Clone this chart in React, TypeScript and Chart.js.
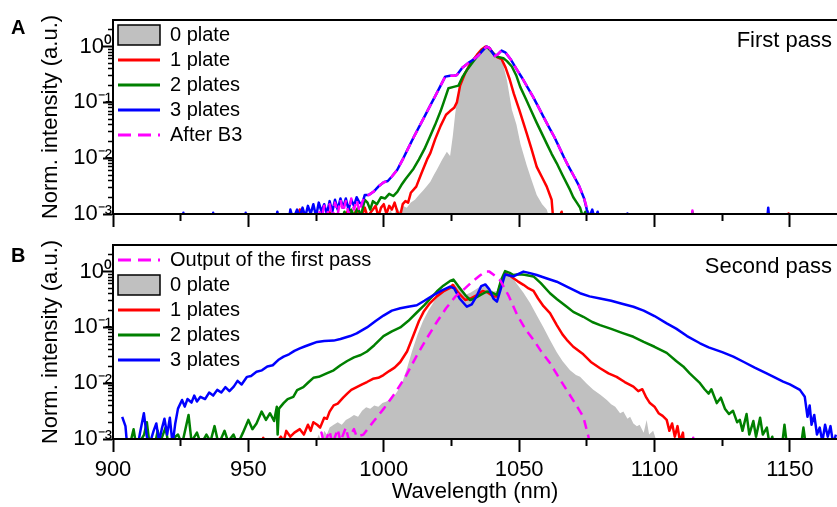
import React, { useEffect, useRef } from 'react';
import { Chart, registerables } from 'chart.js';

Chart.register(...registerables);

const FONT = '"Liberation Sans", Arial, Helvetica, sans-serif';
Chart.defaults.font.family = FONT;
Chart.defaults.color = '#000';

// ---------- axes ----------
const X_MIN = 900;
const X_MAX = 1167.4;
const xMajorTicks = [900, 950, 1000, 1050, 1100, 1150];
const xMinorTicks = [925, 975, 1025, 1075, 1125];
const Y_MIN = 1e-3;
const Y_MAX = 3;
const yMajorTicks = [1e-3, 1e-2, 1e-1, 1];
const yMinorTicks = [
  2e-3, 3e-3, 4e-3, 5e-3, 6e-3, 7e-3, 8e-3, 9e-3,
  2e-2, 3e-2, 4e-2, 5e-2, 6e-2, 7e-2, 8e-2, 9e-2,
  2e-1, 3e-1, 4e-1, 5e-1, 6e-1, 7e-1, 8e-1, 9e-1, 2,
];
const yTickLabels: Record<string, string> = { '-3': '10⁻³', '-2': '10⁻²', '-1': '10⁻¹', '0': '10⁰' };

// ---------- panel A (first pass): [wavelength nm, normalized intensity] ----------
const greyA: [number, number][] = [
  [1001, 0.0008], [1002.5, 0.0012], [1003.5, 0.0009], [1005, 0.0013], [1006, 0.0011], [1007, 0.0014],
  [1008.5, 0.0013], [1010, 0.0016], [1011.5, 0.0018], [1013, 0.0022], [1014.7, 0.0027], [1016, 0.0032],
  [1017.2, 0.0038], [1018.5, 0.005], [1019.6, 0.0062], [1021.5, 0.0093], [1023.3, 0.013], [1024.5, 0.011],
  [1025.5, 0.025], [1026.4, 0.063], [1027.6, 0.166], [1029.4, 0.33], [1031, 0.44], [1033.1, 0.575],
  [1035, 0.75], [1037, 0.92], [1038, 1.0], [1039.5, 0.9], [1041.1, 0.76], [1043.6, 0.6], [1045.5, 0.25],
  [1047.3, 0.075], [1049, 0.04], [1050.5, 0.018], [1052.8, 0.0075], [1054.5, 0.0042], [1056.5, 0.0022],
  [1058.5, 0.0015], [1060.2, 0.0012], [1061, 0.0009], [1062, 0.0006],
];
const redA: [number, number][] = [
  [968, 0.0007], [969, 0.0012], [970, 0.0011], [971, 0.0007], [978, 0.0007], [980, 0.0011], [981, 0.0007],
  [985, 0.0008], [987, 0.0012], [988, 0.0008], [990, 0.0012], [991, 0.0007], [993, 0.0013], [994, 0.0009],
  [996, 0.0012], [997, 0.0014], [998, 0.0009], [999, 0.0013], [1000, 0.0015], [1001, 0.001], [1002, 0.0014],
  [1003, 0.0012], [1004, 0.0016], [1005, 0.0011], [1006, 0.0009], [1007, 0.0015], [1008, 0.0017],
  [1009, 0.0016], [1010, 0.0024], [1012, 0.0031], [1014, 0.0055], [1016, 0.0095], [1017.2, 0.0123],
  [1019, 0.022], [1021, 0.038], [1023, 0.06], [1024.5, 0.07], [1026, 0.08], [1027, 0.1], [1028.2, 0.2],
  [1030, 0.33], [1032, 0.5], [1034.4, 0.71], [1036, 0.88], [1037.5, 1.0], [1039, 0.95], [1040.5, 0.75],
  [1042, 0.64], [1043.5, 0.6], [1045, 0.42], [1046.5, 0.26], [1048, 0.145], [1050, 0.075], [1052.8, 0.028],
  [1054.5, 0.015], [1056.5, 0.007], [1058.5, 0.0045], [1060.2, 0.0031], [1062, 0.0018], [1062.5, 0.0009],
  [1064, 0.0007], [1065.7, 0.0011], [1066.5, 0.0007], [1149, 0.0007], [1149.5, 0.00102], [1150, 0.0007],
];
const greenA: [number, number][] = [
  [984, 0.0007], [985.5, 0.0011], [986.5, 0.0008], [988, 0.0012], [989, 0.0009], [990.5, 0.0013],
  [991.5, 0.0009], [993, 0.0018], [994, 0.0016], [995, 0.0012], [996, 0.0017], [997.5, 0.0015], [999, 0.002],
  [1000.5, 0.0019], [1002, 0.0023], [1003.5, 0.0021], [1005, 0.0025], [1006.5, 0.0033], [1008, 0.0042],
  [1009.5, 0.0052], [1011, 0.0065], [1013, 0.0095], [1015, 0.0145], [1017, 0.024], [1019, 0.04], [1021, 0.07],
  [1022, 0.096], [1023.9, 0.18], [1025.8, 0.19], [1027.6, 0.2], [1029, 0.28], [1030.7, 0.38], [1032.5, 0.5],
  [1034.4, 0.66], [1036, 0.82], [1038, 1.0], [1040, 0.8], [1041.8, 0.66], [1044.2, 0.62], [1045.5, 0.55],
  [1047.3, 0.44], [1049, 0.3], [1050.4, 0.19], [1052.5, 0.115], [1054.5, 0.07], [1056.5, 0.043],
  [1058.5, 0.027], [1060.5, 0.017], [1062, 0.012], [1063.9, 0.0081], [1066, 0.005], [1068.8, 0.0027],
  [1070, 0.002], [1071.3, 0.0016], [1072.5, 0.0013], [1073.5, 0.0009], [1074.5, 0.0011], [1075, 0.0007],
  [1113.5, 0.0007], [1114, 0.0011], [1114.5, 0.0007],
];
const blueA: [number, number][] = [
  [915, 0.0007], [925.5, 0.0007], [926, 0.00105], [926.5, 0.0007], [936.5, 0.0007], [937, 0.00105],
  [937.5, 0.0007], [948.5, 0.0007], [949, 0.00105], [949.5, 0.0007], [960, 0.0007], [960.7, 0.0011],
  [961.5, 0.0007], [965, 0.0008], [965.5, 0.0012], [966.5, 0.0008], [968, 0.0012], [969, 0.0009],
  [970, 0.0013], [971, 0.0009], [972, 0.0014], [973, 0.001], [974, 0.0015], [975, 0.0009], [976, 0.0016],
  [977, 0.0011], [978, 0.0015], [979, 0.001], [980, 0.0017], [981, 0.0011], [982, 0.0018], [983, 0.0012],
  [984, 0.0019], [985, 0.0013], [986, 0.0019], [987, 0.0012], [988, 0.0018], [989, 0.0014], [990, 0.002],
  [991, 0.0016], [992, 0.0015], [993, 0.0022], [994.5, 0.0022], [996.2, 0.0025], [998, 0.0031],
  [1000, 0.0037], [1001.5, 0.0039], [1003, 0.0047], [1005, 0.0062], [1007, 0.0095], [1009, 0.015],
  [1011, 0.0235], [1013, 0.036], [1015, 0.055], [1017, 0.085], [1019, 0.13], [1021, 0.2], [1022.7, 0.29],
  [1024.5, 0.3], [1026, 0.3], [1027, 0.31], [1029, 0.42], [1031, 0.5], [1033, 0.58], [1035, 0.7],
  [1037, 0.9], [1038, 1.0], [1039, 0.95], [1040, 0.8], [1041, 0.68], [1042, 0.72], [1043.5, 0.85],
  [1045, 0.78], [1047, 0.58], [1049, 0.4], [1051, 0.28], [1053, 0.19], [1055, 0.13], [1057, 0.085],
  [1059, 0.055], [1061, 0.036], [1063, 0.024], [1065, 0.015], [1066.5, 0.0105], [1068, 0.0075],
  [1070, 0.005], [1072, 0.0033], [1074, 0.0019], [1075, 0.0012], [1076, 0.0009], [1077, 0.0012],
  [1078, 0.0008], [1079, 0.0011], [1080, 0.0007], [1089.5, 0.0007], [1090, 0.00102], [1090.5, 0.0007],
  [1141.5, 0.0007], [1142, 0.0013], [1142.5, 0.0007], [1167, 0.0007],
];
const magentaA: [number, number][] = [
  [975, 0.0007], [976, 0.0012], [977, 0.0008], [978, 0.0014], [979, 0.0009], [980, 0.0015], [981, 0.0008],
  [982, 0.0016], [983, 0.001], [984, 0.0018], [985, 0.0011], [986, 0.0017], [987, 0.001], [988, 0.0019],
  [989, 0.0012], [990, 0.0018], [991, 0.0011], [992, 0.0016], [993, 0.0021], [994.5, 0.0022],
  [996.2, 0.0025], [998, 0.0031], [1000, 0.0037], [1001.5, 0.0039], [1003, 0.0047], [1005, 0.0062],
  [1007, 0.0094], [1009, 0.015], [1011, 0.0235], [1013, 0.036], [1015, 0.055], [1017, 0.085], [1019, 0.13],
  [1021, 0.2], [1022.7, 0.29], [1024.5, 0.3], [1026, 0.3], [1027, 0.31], [1029, 0.42], [1031, 0.5],
  [1033, 0.58], [1035, 0.7], [1037, 0.9], [1038, 1.0], [1039, 0.95], [1040, 0.8], [1041, 0.68],
  [1042, 0.72], [1043.5, 0.85], [1045, 0.78], [1047, 0.58], [1049, 0.4], [1051, 0.28], [1053, 0.19],
  [1055, 0.13], [1057, 0.085], [1059, 0.055], [1061, 0.036], [1063, 0.024], [1065, 0.015],
  [1066.5, 0.0105], [1068, 0.0075], [1070, 0.005], [1072, 0.0033], [1074, 0.0019], [1075, 0.0013],
  [1075.6, 0.0008], [1076.5, 0.0006], [1113.8, 0.0007], [1114, 0.00115], [1114.2, 0.0007],
];

// ---------- panel B (second pass) ----------
const magentaB: [number, number][] = [
  [975, 0.0007], [977, 0.0013], [978, 0.0008], [980, 0.0014], [981, 0.0008], [983, 0.0015], [984, 0.0009],
  [986, 0.0016], [987, 0.001], [989, 0.0015], [990, 0.0011], [992.5, 0.0012], [996, 0.002], [1000, 0.0035],
  [1004, 0.0065], [1008, 0.013], [1012, 0.03], [1016, 0.065], [1019.6, 0.125], [1023, 0.22],
  [1026.5, 0.36], [1030, 0.5], [1033, 0.68], [1035.5, 0.85], [1037.5, 1.0], [1039, 1.0], [1041, 0.85],
  [1043, 0.7], [1046, 0.38], [1049.2, 0.17], [1052.5, 0.09], [1055.3, 0.06], [1058, 0.038],
  [1061.4, 0.023], [1064.5, 0.013], [1067.6, 0.0075], [1070.5, 0.0045], [1073.7, 0.0025],
  [1075.6, 0.0011], [1076.5, 0.0006], [1114, 0.0007], [1114.3, 0.00105], [1114.6, 0.0007],
];
const greyB: [number, number][] = [
  [974, 0.0007], [976, 0.0012], [977, 0.0009], [978, 0.0014], [979, 0.0012], [980, 0.0016], [981.5, 0.0018],
  [983, 0.002], [984.5, 0.0018], [986, 0.0022], [987.5, 0.0024], [989, 0.0027], [990.5, 0.0025],
  [992, 0.0032], [993.5, 0.0037], [995, 0.0035], [996.5, 0.004], [998, 0.0038], [999.5, 0.0044],
  [1001, 0.0047], [1002.5, 0.0052], [1004, 0.006], [1005.5, 0.0078], [1007, 0.011], [1008.5, 0.018],
  [1010.5, 0.038], [1012.5, 0.075], [1014.5, 0.13], [1016.5, 0.2], [1019.6, 0.35], [1022, 0.46],
  [1024.5, 0.55], [1026, 0.6], [1028, 0.48], [1030, 0.38], [1032, 0.42], [1034.5, 0.5], [1036.5, 0.58],
  [1038.5, 0.52], [1040.5, 0.44], [1042, 0.45], [1043.5, 0.75], [1045, 0.9], [1047, 0.85], [1049.2, 0.6],
  [1051.6, 0.42], [1054.1, 0.27], [1056.5, 0.165], [1059, 0.1], [1061.5, 0.058], [1063.9, 0.036],
  [1066, 0.025], [1068.8, 0.017], [1071, 0.014], [1072.5, 0.013], [1075, 0.0098], [1077.4, 0.0076],
  [1080, 0.0062], [1082.4, 0.005], [1084, 0.0042], [1085.5, 0.0038], [1087.3, 0.0029], [1088.5, 0.0031],
  [1090, 0.0023], [1091, 0.0025], [1092.2, 0.0019], [1093.5, 0.0017], [1094.5, 0.0018], [1096, 0.0013],
  [1097.1, 0.0022], [1098, 0.0012], [1099.5, 0.0014], [1100.8, 0.0009], [1102, 0.0006],
];
const redB: [number, number][] = [
  [954, 0.0007], [955.5, 0.00105], [956.5, 0.0007], [960, 0.0008], [962, 0.0011], [963, 0.0009],
  [964, 0.0014], [965.5, 0.0011], [967, 0.0013], [969, 0.0015], [970.5, 0.0012], [972, 0.0018],
  [973, 0.0014], [974, 0.002], [975.4, 0.0018], [976.5, 0.0016], [978, 0.0024], [979, 0.0023],
  [980, 0.0031], [981.5, 0.004], [983, 0.0043], [985, 0.0055], [986.5, 0.0065], [988, 0.0076],
  [990, 0.0085], [992, 0.0095], [993.8, 0.0105], [996, 0.012], [998, 0.0125], [999.9, 0.014],
  [1002, 0.0165], [1004, 0.019], [1006.1, 0.024], [1008.6, 0.037], [1011, 0.073], [1013, 0.13],
  [1014.7, 0.19], [1017, 0.27], [1019.6, 0.36], [1022, 0.44], [1024.5, 0.51], [1025.5, 0.58],
  [1027.5, 0.42], [1030.1, 0.31], [1032, 0.33], [1034.4, 0.38], [1036.5, 0.45], [1038.5, 0.42],
  [1040.5, 0.36], [1041.8, 0.36], [1043.5, 0.7], [1044.8, 0.93], [1046.5, 0.85], [1047.9, 0.76],
  [1049.5, 0.67], [1051.6, 0.58], [1053.5, 0.5], [1055.3, 0.45], [1057, 0.33], [1059, 0.24],
  [1061.4, 0.18], [1063.9, 0.11], [1066, 0.075], [1067.6, 0.06], [1070, 0.045], [1073.7, 0.033],
  [1076.5, 0.024], [1079.9, 0.0185], [1083, 0.015], [1086, 0.013], [1089, 0.0105], [1092.2, 0.0087],
  [1094, 0.0072], [1095.5, 0.0078], [1097, 0.0055], [1098.3, 0.0044], [1100, 0.0038], [1101.5, 0.0029],
  [1103, 0.0026], [1104.5, 0.0022], [1105.5, 0.0014], [1106.5, 0.0019], [1107.5, 0.0011],
  [1108.5, 0.0017], [1109.4, 0.0009], [1110.5, 0.0013], [1111, 0.0007],
];
const greenB: [number, number][] = [
  [906, 0.0007], [907.6, 0.0015], [908.5, 0.0008], [910, 0.0009], [911.5, 0.0012], [912.5, 0.002],
  [913.5, 0.0008], [915, 0.0006], [916.5, 0.0014], [917.5, 0.0009], [919.4, 0.0016], [920.5, 0.0008],
  [922, 0.001], [924, 0.0012], [925.5, 0.0008], [927.9, 0.0027], [929, 0.0009], [931, 0.0013],
  [932.5, 0.0008], [934.5, 0.0012], [936, 0.0009], [937.5, 0.0017], [939, 0.0008], [941.2, 0.0014],
  [942.5, 0.0009], [944.5, 0.0012], [946, 0.0008], [948, 0.0013], [950, 0.0022], [951.5, 0.0015],
  [953, 0.0019], [954.9, 0.0031], [956.5, 0.0022], [958, 0.0029], [959.5, 0.0021], [960.5, 0.0038],
  [960.8, 0.0012], [961.3, 0.0035], [963, 0.0044], [964.5, 0.0052], [966.6, 0.0057], [968, 0.0075],
  [970.3, 0.0085], [972, 0.0102], [974, 0.0125], [976, 0.013], [978.9, 0.015], [981.5, 0.017],
  [984, 0.021], [986.5, 0.025], [989, 0.029], [991.5, 0.032], [993.8, 0.037], [996.5, 0.048],
  [999.9, 0.07], [1003, 0.085], [1006.1, 0.1], [1009, 0.13], [1012.2, 0.185], [1015, 0.25],
  [1017.5, 0.34], [1019.6, 0.44], [1022, 0.56], [1024.5, 0.68], [1025.7, 0.72], [1027.5, 0.55],
  [1030.1, 0.38], [1031.9, 0.31], [1033.5, 0.33], [1035.6, 0.38], [1038.1, 0.44], [1040, 0.42],
  [1041.8, 0.38], [1043.3, 0.7], [1044.8, 1.02], [1046.5, 0.95], [1047.9, 0.87], [1050, 0.9],
  [1052, 0.88], [1055.3, 0.82], [1058, 0.62], [1061.4, 0.41], [1064, 0.32], [1067.6, 0.235],
  [1070, 0.19], [1073.7, 0.155], [1077, 0.125], [1079.9, 0.11], [1084, 0.094], [1088, 0.08],
  [1092.2, 0.068], [1096, 0.055], [1100, 0.045], [1104.5, 0.035], [1108, 0.025], [1110.6, 0.02],
  [1113, 0.015], [1116.8, 0.01], [1118.5, 0.0078], [1120, 0.0065], [1121, 0.0078], [1123, 0.0044],
  [1124.5, 0.0055], [1126, 0.0035], [1127.5, 0.0028], [1129, 0.0032], [1130.5, 0.002], [1131.5, 0.0022],
  [1132.5, 0.0014], [1134, 0.0028], [1135, 0.0012], [1136.5, 0.0021], [1137.5, 0.0011], [1139, 0.0024],
  [1140, 0.0012], [1141.5, 0.0016], [1142.5, 0.0008], [1143.5, 0.0011], [1144.5, 0.0006], [1147, 0.0007],
  [1148, 0.0018], [1149, 0.0007], [1154, 0.0007], [1155, 0.0016], [1156, 0.0007],
];
const blueB: [number, number][] = [
  [903.4, 0.0025], [904.6, 0.0017], [905.2, 0.0008], [909, 0.0007], [910, 0.0013], [911.4, 0.0029],
  [912.5, 0.0011], [913.5, 0.0008], [915, 0.0014], [916, 0.0019], [917, 0.0009], [918, 0.0015],
  [919, 0.0023], [920, 0.0012], [921, 0.0024], [922, 0.0008], [923, 0.0019], [924, 0.0035], [925.5, 0.005],
  [926.5, 0.0038], [927.5, 0.0052], [929, 0.0045], [930, 0.006], [931, 0.0047], [932.3, 0.0057],
  [934, 0.0052], [935.5, 0.0068], [937, 0.006], [938.5, 0.0076], [940, 0.0068], [941.5, 0.0085],
  [943, 0.0072], [944.6, 0.0087], [946, 0.011], [947.5, 0.0095], [949.5, 0.013], [951, 0.0135],
  [953, 0.016], [955, 0.017], [957, 0.02], [959, 0.021], [961, 0.026], [963, 0.03], [965, 0.033],
  [967, 0.038], [969, 0.042], [971, 0.046], [973, 0.05], [975.4, 0.055], [978, 0.057], [981.5, 0.058],
  [984, 0.062], [987.6, 0.07], [990, 0.078], [993.8, 0.1], [997, 0.13], [999.9, 0.163], [1003, 0.2],
  [1006.1, 0.22], [1009, 0.235], [1012.2, 0.25], [1015, 0.3], [1018.4, 0.38], [1021.5, 0.46],
  [1024.5, 0.54], [1026, 0.5], [1028, 0.33], [1030.7, 0.235], [1032.5, 0.26], [1034.5, 0.38],
  [1036, 0.55], [1037.5, 0.59], [1039, 0.48], [1040.5, 0.33], [1041.8, 0.29], [1043, 0.45],
  [1044.8, 0.89], [1046.5, 0.85], [1047.9, 0.82], [1050, 0.92], [1051.6, 1.0], [1054, 0.94],
  [1056.5, 0.87], [1060, 0.76], [1063.9, 0.66], [1067.6, 0.54], [1072.5, 0.41], [1076, 0.36],
  [1079.9, 0.33], [1084, 0.3], [1088, 0.265], [1092.2, 0.235], [1096, 0.2], [1100, 0.16],
  [1104.5, 0.118], [1108, 0.095], [1112, 0.07], [1116.8, 0.052], [1120, 0.044], [1125, 0.036],
  [1129.1, 0.03], [1133, 0.024], [1137, 0.019], [1141.4, 0.015], [1144, 0.013], [1147.5, 0.0107],
  [1150, 0.0095], [1153.7, 0.0076], [1155.5, 0.0057], [1156.5, 0.0025], [1157.3, 0.004], [1158, 0.0018],
  [1159, 0.0027], [1160, 0.0012], [1161, 0.0016], [1162, 0.0009], [1163, 0.0018], [1164, 0.0011],
  [1165, 0.0017], [1166, 0.0008], [1167, 0.0012],
];

// ---------- styling ----------
const GREY = '#c0c0c0';
const RED = '#ff0000';
const GREEN = '#008000';
const BLUE = '#0000ff';
const MAGENTA = '#ff00ff';

type Kind = 'fill' | 'line' | 'dash';
interface Series { label: string; data: [number, number][]; color: string; kind: Kind; order: number; }

const seriesA: Series[] = [
  { label: '0 plate', data: greyA, color: GREY, kind: 'fill', order: 5 },
  { label: '1 plate', data: redA, color: RED, kind: 'line', order: 4 },
  { label: '2 plates', data: greenA, color: GREEN, kind: 'line', order: 3 },
  { label: '3 plates', data: blueA, color: BLUE, kind: 'line', order: 2 },
  { label: 'After B3', data: magentaA, color: MAGENTA, kind: 'dash', order: 1 },
];
const seriesB: Series[] = [
  { label: 'Output of the first pass', data: magentaB, color: MAGENTA, kind: 'dash', order: 1 },
  { label: '0 plate', data: greyB, color: GREY, kind: 'fill', order: 5 },
  { label: '1 plates', data: redB, color: RED, kind: 'line', order: 4 },
  { label: '2 plates', data: greenB, color: GREEN, kind: 'line', order: 3 },
  { label: '3 plates', data: blueB, color: BLUE, kind: 'line', order: 2 },
];

interface PanelOpts {
  series: Series[];
  letter: string;
  letterBaseline: number;
  passLabel: string;
  passOffset: number;
  showXLabels: boolean;
  xAxisHeight: number;
}

function buildConfig(p: PanelOpts): any {
  const datasets = p.series.map((s) => ({
    label: s.label,
    data: s.data.map(([x, y]) => ({ x, y })),
    borderColor: s.kind === 'fill' ? 'rgba(0,0,0,0)' : s.color,
    backgroundColor: s.color,
    borderWidth: s.kind === 'fill' ? 0 : 2.5,
    borderDash: s.kind === 'dash' ? [9, 6] : [],
    borderJoinStyle: 'round',
    fill: s.kind === 'fill' ? 'start' : false,
    pointRadius: 0,
    pointHoverRadius: 0,
    tension: 0,
    order: s.order,
  }));

  const textPlugin = {
    id: 'panelText',
    afterLayout(chart: any) {
      // keep the legend (placed in the chart area) aligned with the plot's top-left corner
      const lg = chart.legend;
      if (lg) {
        lg.top = chart.chartArea.top;
        lg.bottom = chart.chartArea.bottom;
        lg.left = chart.chartArea.left;
      }
    },
    afterDraw(chart: any) {
      const { ctx, chartArea } = chart;
      ctx.save();
      ctx.fillStyle = '#000';
      ctx.textBaseline = 'alphabetic';
      ctx.font = `22px ${FONT}`;
      ctx.textAlign = 'right';
      ctx.fillText(p.passLabel, chartArea.right - 5, chartArea.top + p.passOffset);
      ctx.font = `bold 20px ${FONT}`;
      ctx.textAlign = 'left';
      ctx.fillText(p.letter, 11, p.letterBaseline);
      ctx.restore();
    },
  };

  return {
    type: 'line',
    data: { datasets },
    plugins: [textPlugin],
    options: {
      animation: false,
      responsive: false,
      devicePixelRatio: 1,
      events: [],
      layout: { padding: { top: 20, left: 0, right: 0, bottom: 0 } },
      plugins: {
        tooltip: { enabled: false },
        legend: {
          display: true,
          position: 'chartArea',
          align: 'start',
          labels: {
            color: '#000',
            font: { size: 20, family: FONT },
            usePointStyle: true,
            pointStyleWidth: 42,
            padding: 5,
            generateLabels: (chart: any) =>
              chart.data.datasets.map((ds: any, i: number) => {
                const s = p.series[i];
                return {
                  text: ds.label,
                  datasetIndex: i,
                  fontColor: '#000',
                  hidden: false,
                  fillStyle: s.kind === 'fill' ? s.color : 'rgba(0,0,0,0)',
                  strokeStyle: s.kind === 'fill' ? '#000' : s.color,
                  lineWidth: s.kind === 'fill' ? 1.5 : 3,
                  lineDash: s.kind === 'dash' ? [13, 7] : [],
                  pointStyle: s.kind === 'fill' ? 'rect' : 'line',
                };
              }),
          },
        },
      },
      scales: {
        x: {
          type: 'linear',
          axis: 'x',
          position: 'bottom',
          min: X_MIN,
          max: X_MAX,
          afterBuildTicks: (s: any) => { s.ticks = xMajorTicks.map((v) => ({ value: v })); },
          afterFit: (s: any) => { s.height = p.xAxisHeight; },
          ticks: {
            display: p.showXLabels,
            color: '#000',
            font: { size: 22 },
            padding: 5,
            maxRotation: 0,
            autoSkip: false,
            callback: (v: any) => String(v),
          },
          grid: { display: true, drawOnChartArea: false, drawTicks: true, tickLength: 13, tickWidth: 2, tickColor: '#000' },
          border: { display: true, color: '#000', width: 2, z: 1 },
          title: {
            display: p.showXLabels,
            text: 'Wavelength (nm)',
            color: '#000',
            font: { size: 22 },
            padding: { top: 0, bottom: 2 },
          },
        },
        xMinor: {
          type: 'linear',
          axis: 'x',
          position: { y: Y_MIN },
          min: X_MIN,
          max: X_MAX,
          afterBuildTicks: (s: any) => { s.ticks = xMinorTicks.map((v) => ({ value: v })); },
          afterFit: (s: any) => { s.height = 0; },
          ticks: { display: false },
          grid: { display: true, drawOnChartArea: false, drawTicks: true, tickLength: 7, tickWidth: 2, tickColor: '#000' },
          border: { display: false },
        },
        xTop: {
          type: 'linear',
          axis: 'x',
          position: 'top',
          min: X_MIN,
          max: X_MAX,
          afterFit: (s: any) => { s.height = 0; },
          ticks: { display: false },
          grid: { display: false, drawTicks: false },
          border: { display: true, color: '#000', width: 2, z: 1 },
        },
        y: {
          type: 'logarithmic',
          axis: 'y',
          position: 'left',
          min: Y_MIN,
          max: Y_MAX,
          afterBuildTicks: (s: any) => { s.ticks = yMajorTicks.map((v) => ({ value: v })); },
          afterFit: (s: any) => { s.width = 113; },
          ticks: {
            color: '#000',
            font: { size: 22 },
            padding: -9,
            autoSkip: false,
            callback: (v: any) => yTickLabels[String(Math.round(Math.log10(Number(v))))] ?? '',
          },
          grid: { display: true, drawOnChartArea: false, drawTicks: true, tickLength: 10, tickWidth: 2, tickColor: '#000' },
          border: { display: true, color: '#000', width: 2, z: 1 },
          title: {
            display: true,
            text: 'Norm. intensity (a.u.)',
            color: '#000',
            font: { size: 22 },
            padding: { top: 38, bottom: 0 },
          },
        },
        yMinor: {
          type: 'logarithmic',
          axis: 'y',
          position: { x: X_MIN },
          min: Y_MIN,
          max: Y_MAX,
          afterBuildTicks: (s: any) => { s.ticks = yMinorTicks.map((v) => ({ value: v })); },
          afterFit: (s: any) => { s.width = 0; },
          ticks: { display: false },
          grid: { display: true, drawOnChartArea: false, drawTicks: true, tickLength: 5, tickWidth: 1.5, tickColor: '#000' },
          border: { display: false },
        },
      },
    },
  };
}

const panelA: PanelOpts = {
  series: seriesA, letter: 'A', letterBaseline: 34, passLabel: 'First pass', passOffset: 27,
  showXLabels: false, xAxisHeight: 16,
};
const panelB: PanelOpts = {
  series: seriesB, letter: 'B', letterBaseline: 37, passLabel: 'Second pass', passOffset: 28,
  showXLabels: true, xAxisHeight: 68,
};

export default function App() {
  const refA = useRef<HTMLCanvasElement>(null);
  const refB = useRef<HTMLCanvasElement>(null);
  useEffect(() => {
    const a = new Chart(refA.current as HTMLCanvasElement, buildConfig(panelA));
    const b = new Chart(refB.current as HTMLCanvasElement, buildConfig(panelB));
    return () => { a.destroy(); b.destroy(); };
  }, []);
  return (
    <div style={{ position: 'absolute', left: 0, top: 0, width: 837, height: 507, background: '#fff', overflow: 'hidden' }}>
      <canvas ref={refA} width={837} height={230} style={{ position: 'absolute', left: 0, top: 0, width: 837, height: 230 }} />
      <canvas ref={refB} width={837} height={282} style={{ position: 'absolute', left: 0, top: 225, width: 837, height: 282 }} />
    </div>
  );
}
